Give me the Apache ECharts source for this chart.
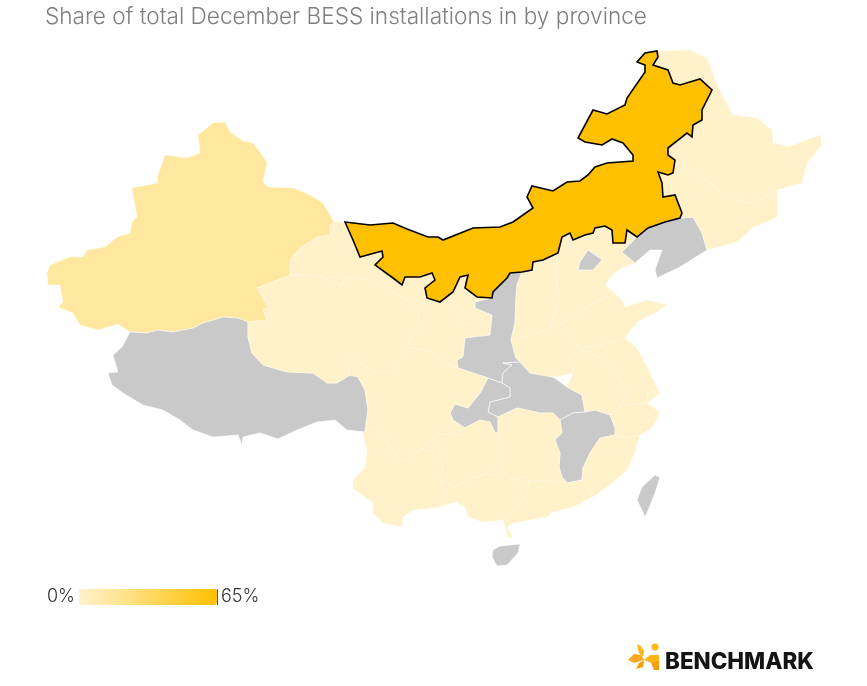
<!DOCTYPE html>
<html>
<head>
<meta charset="utf-8" />
<title>BESS installations by province</title>
<script src="https://cdn.jsdelivr.net/npm/echarts@6/dist/echarts.min.js"></script>
<style type="text/css">
	html,body{margin:0;padding:0;background:#fff;}
	#main{width:867px;height:686px;}
</style>
</head>
<body>
<div id="main"></div>
<script type="text/javascript">
// shares in percent, provinces missing from this list have no data and stay grey
var provinces = ['Xinjiang','Qinghai','Gansu','Ningxia','Sichuan','Yunnan','Guizhou','Hunan','Guangxi','Guangdong','Fujian','Zhejiang','Anhui','Jiangsu','Shanghai','Henan','Shanxi','Hebei','Shandong','Heilongjiang','Jilin','Inner Mongolia'];
var shares = [14,0.5,0.5,0.5,0.5,0.5,0.5,0.5,0.5,0.5,0.5,0.5,0.5,0.5,0.5,0.5,0.5,0.5,0.5,0.5,0.5,65];
var noData = ['Tibet','Shaanxi','Hubei','Chongqing','Jiangxi','Liaoning','Beijing','Taiwan','Hainan'];
var scaleMin = 0;
var scaleMax = 65;
var scaleLabels = ['65%','0%'];

// outlines, the map is projected 1:1 so units are page pixels
var outlines = {
	'Xinjiang':[[47,273],[50,265],[70,257],[83,257],[87,250],[105,247],[117,237],[130,233],[132,222],[137,217],[132,188],[158,183],[157,178],[165,155],[187,158],[200,153],[198,135],[213,123],[225,122],[230,132],[243,141],[253,143],[262,155],[267,162],[263,182],[268,187],[293,188],[310,195],[323,203],[334,222],[330,225],[330,235],[317,237],[300,248],[290,260],[290,275],[257,288],[268,307],[263,310],[267,320],[248,322],[238,318],[223,317],[203,323],[193,328],[173,332],[157,330],[147,333],[130,332],[118,324],[98,330],[80,325],[73,313],[58,307],[63,302],[60,285],[48,285]],
	'Tibet':[[130,332],[147,333],[157,330],[173,332],[193,328],[203,323],[223,317],[238,318],[248,322],[248,337],[252,353],[263,365],[287,372],[313,373],[327,383],[337,383],[350,375],[358,377],[365,390],[368,410],[365,432],[347,430],[335,420],[317,422],[297,430],[278,439],[260,433],[243,437],[242,445],[238,435],[213,437],[193,430],[180,420],[163,410],[143,405],[123,393],[112,385],[108,373],[118,372],[113,355],[122,347]],
	'Qinghai':[[257,288],[290,275],[313,275],[330,280],[342,287],[345,277],[370,280],[390,290],[407,300],[417,310],[420,323],[407,347],[402,360],[390,372],[373,372],[352,356],[347,358],[350,375],[337,383],[327,383],[313,373],[287,372],[263,365],[252,353],[248,337],[248,322],[267,320],[263,310],[268,307]],
	'Gansu':[[334,222],[345,222],[353,240],[360,257],[382,251],[383,257],[375,265],[393,278],[402,285],[405,277],[420,277],[432,273],[435,280],[425,288],[427,298],[440,302],[453,292],[450,300],[462,310],[458,320],[470,325],[475,308],[492,315],[490,335],[465,338],[463,357],[457,360],[458,368],[445,362],[430,352],[407,347],[420,323],[417,310],[407,300],[390,290],[370,280],[345,277],[342,287],[330,280],[313,275],[290,275],[290,260],[300,248],[317,237],[330,235],[330,225]],
	'Ningxia':[[453,292],[460,277],[468,275],[465,288],[477,297],[492,298],[475,302],[475,308],[470,325],[458,320],[462,310],[450,300]],
	'Shaanxi':[[507,278],[510,273],[522,272],[517,285],[516,297],[515,323],[511,340],[516,358],[520,362],[503,363],[512,365],[503,373],[502,383],[488,378],[470,372],[458,368],[457,360],[463,357],[465,338],[490,335],[492,315],[475,308],[475,302],[492,298],[493,292]],
	'Hubei':[[520,362],[503,363],[512,365],[503,373],[502,383],[510,388],[510,397],[490,402],[488,412],[498,417],[517,408],[540,413],[553,413],[560,420],[573,413],[585,412],[582,395],[567,387],[553,377],[530,373]],
	'Chongqing':[[488,378],[502,383],[510,388],[510,397],[490,402],[488,412],[498,417],[498,432],[495,433],[490,422],[480,420],[465,428],[453,420],[450,413],[455,404],[468,408],[480,393]],
	'Jiangxi':[[560,420],[573,413],[585,412],[595,410],[610,415],[615,427],[615,435],[600,438],[590,453],[583,468],[582,480],[567,483],[562,477],[559,467],[560,453],[555,440],[562,433]],
	'Sichuan':[[350,375],[347,358],[352,356],[373,372],[390,372],[402,360],[407,347],[430,352],[445,362],[458,368],[470,372],[488,378],[480,393],[468,408],[455,404],[450,413],[453,420],[465,428],[457,433],[437,435],[420,450],[403,462],[390,447],[377,427],[365,432],[368,410],[365,390],[358,377]],
	'Yunnan':[[365,432],[377,427],[390,447],[403,462],[420,450],[437,445],[443,470],[440,480],[447,492],[440,507],[413,510],[403,517],[402,527],[383,523],[373,513],[373,503],[353,488],[353,480],[365,467],[367,450],[363,433]],
	'Guizhou':[[420,450],[437,435],[457,433],[465,428],[480,420],[490,422],[495,433],[498,432],[503,455],[497,470],[473,478],[455,487],[440,480],[443,470],[437,445]],
	'Hunan':[[498,417],[517,408],[540,413],[553,413],[560,420],[562,433],[555,440],[560,453],[559,467],[562,477],[567,483],[545,480],[530,482],[510,478],[497,470],[503,455],[498,432]],
	'Guangxi':[[440,480],[455,487],[473,478],[497,470],[510,478],[530,482],[527,493],[517,507],[503,520],[483,522],[468,517],[465,507],[455,502],[440,507],[447,492]],
	'Guangdong':[[530,482],[545,480],[567,483],[582,480],[593,497],[573,507],[553,512],[547,517],[513,523],[507,527],[513,538],[508,537],[505,527],[503,520],[517,507],[527,493]],
	'Fujian':[[582,480],[583,468],[590,453],[600,438],[615,435],[622,438],[640,435],[633,457],[627,470],[607,487],[593,497]],
	'Zhejiang':[[615,427],[610,415],[622,405],[647,403],[660,412],[653,427],[640,435],[622,438],[615,435]],
	'Anhui':[[582,395],[567,387],[573,373],[570,358],[580,350],[600,358],[617,373],[627,393],[622,405],[610,415],[595,410],[585,412]],
	'Jiangsu':[[578,348],[600,345],[625,338],[637,348],[647,367],[658,390],[648,393],[647,403],[622,405],[627,393],[617,373],[600,358],[580,350]],
	'Shanghai':[[648,393],[658,390],[660,393],[647,403]],
	'Henan':[[511,340],[533,335],[550,328],[560,322],[573,335],[578,348],[580,350],[570,358],[573,373],[553,377],[530,373],[520,362],[516,358]],
	'Shanxi':[[522,272],[532,270],[533,262],[543,260],[558,253],[556,270],[557,287],[560,300],[550,328],[533,335],[511,340],[515,323],[516,297],[517,285]],
	'Hebei':[[558,253],[562,237],[570,233],[573,240],[585,235],[593,233],[595,228],[605,226],[612,230],[613,243],[625,243],[627,230],[637,237],[622,252],[635,263],[622,268],[612,275],[605,285],[612,295],[590,305],[575,318],[560,322],[550,328],[560,300],[557,287],[556,270]],
	'Beijing':[[588,250],[598,257],[602,260],[593,270],[578,270],[580,262]],
	'Shandong':[[605,285],[622,300],[625,307],[647,300],[667,305],[657,312],[637,322],[625,338],[600,345],[578,348],[573,335],[560,322],[575,318],[590,305],[612,295]],
	'Liaoning':[[680,218],[693,217],[702,233],[707,250],[680,267],[657,278],[655,270],[662,250],[650,250],[635,263],[622,252],[637,237],[648,228],[665,222]],
	'Jilin':[[673,173],[675,160],[690,172],[707,180],[727,197],[753,203],[777,190],[777,217],[767,222],[753,227],[737,242],[707,250],[702,233],[693,217],[680,218],[682,213],[675,195],[663,197],[662,183],[658,172],[668,175]],
	'Heilongjiang':[[657,51],[690,50],[707,58],[715,80],[723,97],[733,115],[757,118],[772,130],[773,143],[788,147],[820,135],[822,145],[807,163],[802,183],[777,190],[753,203],[727,197],[707,180],[690,172],[675,160],[668,155],[668,148],[687,133],[692,137],[693,125],[702,120],[702,110],[712,90],[700,79],[680,85],[673,83],[668,70],[653,65],[658,57]],
	'Taiwan':[[655,475],[660,477],[655,493],[647,513],[645,517],[642,510],[637,500],[642,487]],
	'Hainan':[[500,546],[520,544],[518,553],[507,565],[497,566],[492,557],[493,550]],
	'Inner Mongolia':[[345,222],[370,225],[393,223],[407,229],[428,237],[438,237],[443,240],[473,228],[500,227],[513,222],[533,208],[527,197],[532,186],[553,191],[567,182],[580,181],[588,175],[595,167],[607,163],[633,161],[633,155],[623,143],[612,139],[602,145],[585,142],[578,138],[593,110],[607,114],[625,105],[627,98],[645,72],[645,65],[637,62],[645,53],[657,51],[658,57],[653,65],[668,70],[673,83],[680,85],[700,79],[712,90],[702,110],[702,120],[693,125],[692,137],[687,133],[668,148],[668,155],[675,160],[673,173],[668,175],[658,172],[662,183],[663,197],[675,195],[682,213],[680,218],[665,222],[648,228],[637,237],[627,230],[625,243],[613,243],[612,230],[605,226],[595,228],[593,233],[585,235],[573,240],[570,233],[562,237],[558,253],[543,260],[533,262],[532,270],[522,272],[510,273],[507,278],[493,292],[492,298],[477,297],[465,288],[468,275],[460,277],[453,292],[440,302],[427,298],[425,288],[435,280],[432,273],[420,277],[405,277],[402,285],[393,278],[375,265],[383,257],[382,251],[360,257],[353,240]]
};

var features = [];
for (var name in outlines) {
	var ring = outlines[name].slice();
	ring.push(ring[0]);
	features.push({type:'Feature',properties:{name:name},geometry:{type:'Polygon',coordinates:[ring]}});
}
echarts.registerMap('provinceMap',{type:'FeatureCollection',features:features});

var mapData = [];
for (var i = 0; i < provinces.length; i++) {
	var item = {name:provinces[i],value:shares[i]};
	if (shares[i] == scaleMax) {
		item.itemStyle = {borderColor:'#000',borderWidth:1.6};
	} else {
		// borders between the pale provinces are barely visible
		item.itemStyle = {borderColor:'#FFF8E4',borderWidth:0.5};
	}
	mapData.push(item);
}
for (var j = 0; j < noData.length; j++) {
	mapData.push({name:noData[j],value:NaN});
}

var myChart = echarts.init(document.getElementById('main'));
myChart.setOption({
	backgroundColor:'#fff',
	animation:false,
	title:{
		text:'Share of total December BESS installations in by province',
		left:40,top:1,
		textStyle:{fontFamily:'Inter',fontWeight:300,fontSize:22.6,color:'#7f7f7f'}
	},
	visualMap:{
		type:'continuous',
		min:scaleMin,max:scaleMax,
		orient:'horizontal',
		left:32,top:573,
		itemWidth:16,itemHeight:138,
		text:scaleLabels,
		textGap:4,
		calculable:false,
		borderRadius:0,
		inRange:{color:['#FFF2CC','#FFC000']},
		textStyle:{fontFamily:'Inter',fontWeight:300,fontSize:18,color:'#333'}
	},
	series:[{
		type:'map',
		map:'provinceMap',
		projection:{project:function(p){return p},unproject:function(p){return p}},
		left:47,top:50,right:45,bottom:120,
		roam:false,
		silent:true,
		label:{show:false},
		itemStyle:{areaColor:'#C9C9C9',borderColor:'#fff',borderWidth:0.6},
		data:mapData
	}],
	graphic:[
		{type:'line',shape:{x1:217.5,y1:589,x2:217.5,y2:605},style:{stroke:'#555',lineWidth:1}},
		// logo mark
		{type:'circle',shape:{cx:655,cy:647,r:3.6},style:{fill:'#FBB615'}},
		{type:'polygon',shape:{points:[[637,644],[641,646],[644,651],[643,657],[639,653]]},style:{fill:'#FBB615'}},
		{type:'polygon',shape:{points:[[628,660],[634,654],[641,655],[644,660],[634,663]]},style:{fill:'#F9A825'}},
		{type:'polygon',shape:{points:[[644,660],[650,655],[659,655],[659,660],[651,663]]},style:{fill:'#FBB615'}},
		{type:'polygon',shape:{points:[[636,669],[639,663],[644,660],[643,667]]},style:{fill:'#F59E0B'}},
		{type:'polygon',shape:{points:[[651,663],[659,660],[659,670],[654,670]]},style:{fill:'#F59E0B'}},
		{type:'text',left:665,top:651,style:{text:'BENCHMARK',fontFamily:'Inter',fontWeight:800,fontSize:22.4,fill:'#141414'}}
	]
});
</script>
</body>
</html>
